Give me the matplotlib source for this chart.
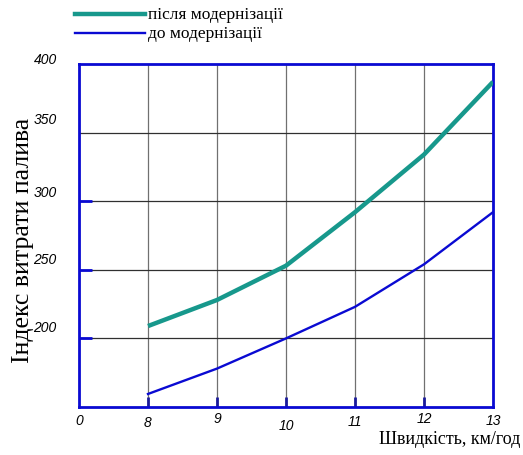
import numpy as np
import matplotlib
matplotlib.use('Agg')
import matplotlib.pyplot as plt
import matplotlib.transforms as mtransforms

plt.rcParams['font.family'] = ['Liberation Sans', 'DejaVu Sans']

# data
speed = [8, 9, 10, 11, 12, 13]
after = [209, 228, 253, 292, 334, 387]
before = [159.5, 178, 200, 223, 254, 292]

xticks = [7, 8, 9, 10, 11, 12, 13]
xticklabels = ['0', '8', '9', '10', '11', '12', '13']
yticks = [200, 250, 300, 350, 400]
yticklabels = ['200', '250', '300', '350', '400']

teal = '#17988c'
blue = '#0a0ad2'

fig = plt.figure(figsize=(5.23, 4.56), dpi=100)
ax = fig.add_axes([79/523, 48/456, 414/523, 343/456])

ax.plot(speed, after, color=teal, lw=3.2, solid_capstyle='butt', zorder=3)
ax.plot(speed, before, color=blue, lw=1.7, zorder=3)

ax.set_xlim(7, 13)
ax.set_ylim(150, 400)

for x in xticks[1:-1]:
    ax.axvline(x, color='#707070', lw=0.9, zorder=1)
for y in yticks[:-1]:
    ax.axhline(y, color='#303030', lw=0.9, zorder=1)

for s in ax.spines.values():
    s.set_color(blue)
    s.set_linewidth(2)

ax.set_xticks(xticks)
ax.set_xticklabels(xticklabels, style='italic', size=10)
ax.set_yticks(yticks)
ax.set_yticklabels(yticklabels, style='italic', size=10)
ax.tick_params(axis='x', direction='in', length=7, width=2, color='#1a1a9a', pad=5)
ax.tick_params(axis='y', direction='in', length=9, width=2, color=blue, pad=16)

# hide ticks where the reference has none
for t, v in zip(ax.xaxis.get_major_ticks(), xticks):
    if v in (7, 13):
        t.tick1line.set_visible(False)
    t.tick2line.set_visible(False)
for t, v in zip(ax.yaxis.get_major_ticks(), yticks):
    if v in (350, 400):
        t.tick1line.set_visible(False)
    t.tick2line.set_visible(False)

# small irregular label offsets (points)
xdy = [1, -1, 2, -3, 0, 2, 1]
ydy = [9, 9, 8, 11, 5]
for lab, d in zip(ax.get_xticklabels(), xdy):
    lab.set_transform(lab.get_transform() + mtransforms.ScaledTranslation(0, d/72, fig.dpi_scale_trans))
for lab, d in zip(ax.get_yticklabels(), ydy):
    lab.set_transform(lab.get_transform() + mtransforms.ScaledTranslation(0, d/72, fig.dpi_scale_trans))

ax.set_ylabel('Індекс витрати палива', family='Liberation Serif', size=18.5)
ax.yaxis.set_label_coords(-0.108, 0.49)
fig.text(0.995, 0.018, 'Швидкість, км/год', family='Liberation Serif', size=13, ha='right', va='bottom')

# legend drawn as in the reference (lines above the axes)
fig.add_artist(plt.Line2D([75/523, 145/523], [1 - 15/456, 1 - 15/456], color=teal, lw=3.2))
fig.add_artist(plt.Line2D([75/523, 145/523], [1 - 34/456, 1 - 34/456], color=blue, lw=1.7))
fig.text(148/523, 1 - 15/456, 'після модернізації', family='Liberation Serif', size=12.5, va='center')
fig.text(148/523, 1 - 34/456, 'до модернізації', family='Liberation Serif', size=12.5, va='center')

fig.savefig('out.png', dpi=100)
